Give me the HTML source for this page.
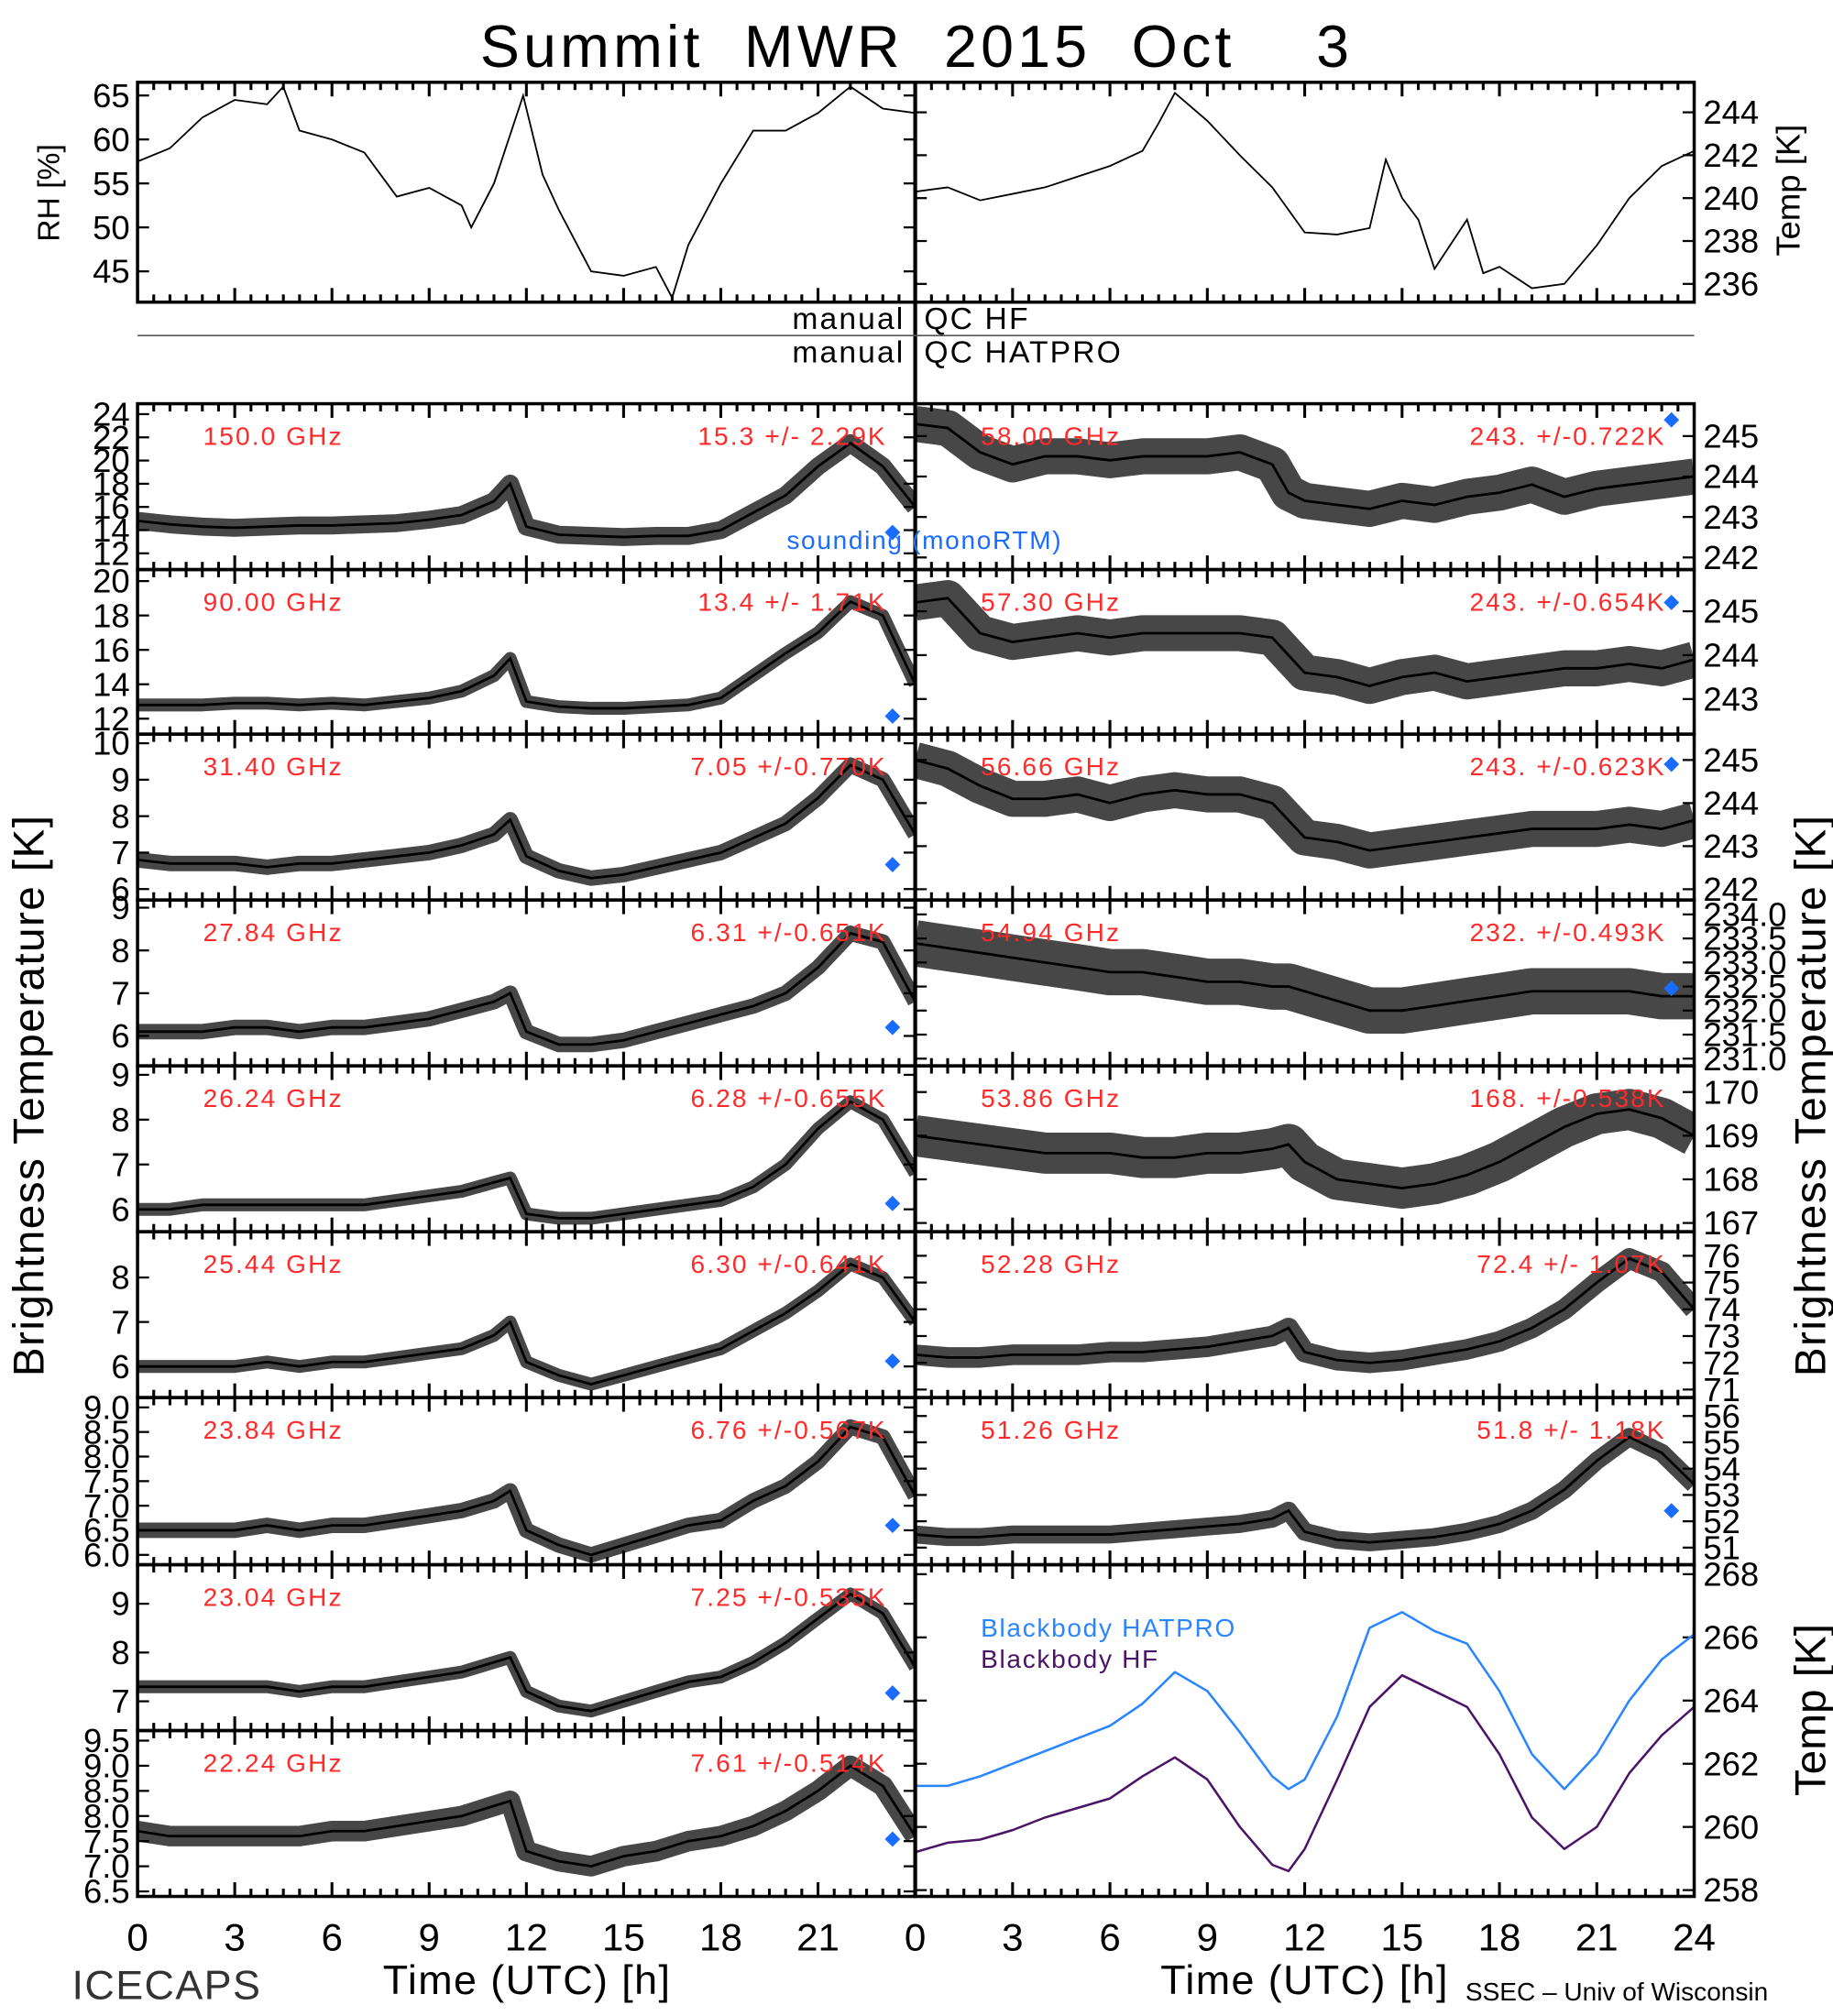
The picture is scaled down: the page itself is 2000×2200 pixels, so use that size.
<!DOCTYPE html>
<html><head><meta charset="utf-8"><style>
html,body{margin:0;padding:0;background:#fff}
svg{display:block}
text{font-family:"Liberation Sans",sans-serif}
</style></head>
<body>
<svg id="chart" xmlns="http://www.w3.org/2000/svg" width="2000" height="2200" viewBox="0 0 1426 1568" preserveAspectRatio="none">
<rect x="0" y="0" width="1426" height="1568" fill="#fff"/>
<text x="713" y="52" font-size="46" text-anchor="middle" letter-spacing="3" xml:space="preserve">Summit  MWR  2015  Oct    3</text>
<g id="g"></g>
</svg>
<script>
// ---- data ----
const times=[0,1,2,3,4,5,6,7,8,9,10,11,11.5,12,13,14,15,16,17,18,19,20,21,22,23,24];
const ch150=[14.8,14.5,14.3,14.2,14.3,14.4,14.4,14.5,14.6,14.9,15.3,16.5,18.0,14.3,13.6,13.5,13.4,13.5,13.5,14.0,15.5,17.0,19.5,21.5,19.5,16.0];
const ch90=[12.8,12.8,12.8,12.9,12.9,12.8,12.9,12.8,13.0,13.2,13.6,14.5,15.5,13.0,12.7,12.6,12.6,12.7,12.8,13.2,14.5,15.8,17.0,18.8,18.0,14.0];
const ch3140=[6.8,6.7,6.7,6.7,6.6,6.7,6.7,6.8,6.9,7.0,7.2,7.5,7.9,6.9,6.5,6.3,6.4,6.6,6.8,7.0,7.4,7.8,8.5,9.4,9.0,7.5];
const ch2784=[6.1,6.1,6.1,6.2,6.2,6.1,6.2,6.2,6.3,6.4,6.6,6.8,7.0,6.1,5.8,5.8,5.9,6.1,6.3,6.5,6.7,7.0,7.6,8.4,8.2,6.8];
const ch2624=[6.0,6.0,6.1,6.1,6.1,6.1,6.1,6.1,6.2,6.3,6.4,6.6,6.7,5.9,5.8,5.8,5.9,6.0,6.1,6.2,6.5,7.0,7.8,8.4,8.0,6.8];
const ch2544=[6.0,6.0,6.0,6.0,6.1,6.0,6.1,6.1,6.2,6.3,6.4,6.7,7.0,6.1,5.8,5.6,5.8,6.0,6.2,6.4,6.8,7.2,7.7,8.3,8.0,7.0];
const ch2384=[6.5,6.5,6.5,6.5,6.6,6.5,6.6,6.6,6.7,6.8,6.9,7.1,7.3,6.5,6.2,6.0,6.2,6.4,6.6,6.7,7.1,7.4,7.9,8.6,8.4,7.2];
const ch2304=[7.3,7.3,7.3,7.3,7.3,7.2,7.3,7.3,7.4,7.5,7.6,7.8,7.9,7.2,6.9,6.8,7.0,7.2,7.4,7.5,7.8,8.2,8.7,9.2,8.8,7.7];
const ch2224=[7.7,7.6,7.6,7.6,7.6,7.6,7.7,7.7,7.8,7.9,8.0,8.2,8.3,7.3,7.1,7.0,7.2,7.3,7.5,7.6,7.8,8.1,8.5,9.0,8.6,7.6];
const ch5800=[245.3,245.2,244.6,244.3,244.5,244.5,244.4,244.5,244.5,244.5,244.6,244.3,243.6,243.4,243.3,243.2,243.4,243.3,243.5,243.6,243.8,243.5,243.7,243.8,243.9,244.0];
const ch5730=[245.2,245.3,244.5,244.3,244.4,244.5,244.4,244.5,244.5,244.5,244.5,244.4,244.0,243.6,243.5,243.3,243.5,243.6,243.4,243.5,243.6,243.7,243.7,243.8,243.7,243.9];
const ch5666=[245.0,244.8,244.4,244.1,244.1,244.2,244.0,244.2,244.3,244.2,244.2,244.0,243.6,243.2,243.1,242.9,243.0,243.1,243.2,243.3,243.4,243.4,243.4,243.5,243.4,243.6];
const ch5494=[233.4,233.3,233.2,233.1,233.0,232.9,232.8,232.8,232.7,232.6,232.6,232.5,232.5,232.4,232.2,232.0,232.0,232.1,232.2,232.3,232.4,232.4,232.4,232.4,232.3,232.3];
const ch5386=[169.0,168.9,168.8,168.7,168.6,168.6,168.6,168.5,168.5,168.6,168.6,168.7,168.8,168.4,168.0,167.9,167.8,167.9,168.1,168.4,168.8,169.2,169.5,169.6,169.4,169.0];
const ch5228=[72.3,72.2,72.2,72.3,72.3,72.3,72.4,72.4,72.5,72.6,72.8,73.0,73.3,72.4,72.1,72.0,72.1,72.3,72.5,72.8,73.3,74.0,75.0,75.9,75.4,74.0];
const ch5126=[51.5,51.4,51.4,51.5,51.5,51.5,51.5,51.6,51.7,51.8,51.9,52.1,52.4,51.6,51.3,51.2,51.3,51.4,51.6,51.9,52.4,53.2,54.3,55.2,54.6,53.4];
const bbHatpro=[261.3,261.3,261.6,262.0,262.4,262.8,263.2,263.9,264.9,264.3,263.0,261.6,261.2,261.5,263.5,266.3,266.8,266.2,265.8,264.3,262.3,261.2,262.3,264.0,265.3,266.1];
const bbHF=[259.2,259.5,259.6,259.9,260.3,260.6,260.9,261.6,262.2,261.5,260.0,258.8,258.6,259.3,261.5,263.8,264.8,264.3,263.8,262.3,260.3,259.3,260.0,261.7,262.9,263.8];
const tRH=[0,1,2,3,4,4.5,5,6,7,8,9,10,10.3,11,11.9,12.5,13,14,15,16,16.5,17,18,19,20,21,22,23,24];
const rh=[57.5,59,62.5,64.5,64,66,61,60,58.5,53.5,54.5,52.5,50,55,65,56,52,45,44.5,45.5,42,48,55,61,61,63,66,63.5,63];
const tTemp=[0,1,2,3,4,5,6,7,7.5,8,9,10,11,12,13,14,14.5,15,15.5,16,17,17.5,18,19,20,21,22,23,24];
const temp=[240.3,240.5,239.9,240.2,240.5,241.0,241.5,242.2,243.5,244.9,243.6,242.0,240.5,238.4,238.3,238.6,241.8,240.0,239.0,236.7,239.0,236.5,236.8,235.8,236.0,237.8,240.0,241.5,242.2];
const freqLabels=["150.0 GHz","90.00 GHz","31.40 GHz","27.84 GHz","26.24 GHz","25.44 GHz","23.84 GHz","23.04 GHz","22.24 GHz","58.00 GHz","57.30 GHz","56.66 GHz","54.94 GHz","53.86 GHz","52.28 GHz","51.26 GHz"];
const statLabels=["15.3 +/-   2.29K","13.4 +/-   1.71K","7.05 +/-0.770K","6.31 +/-0.651K","6.28 +/-0.655K","6.30 +/-0.641K","6.76 +/-0.567K","7.25 +/-0.535K","7.61 +/-0.514K","243. +/-0.722K","243. +/-0.654K","243. +/-0.623K","232. +/-0.493K","168. +/-0.538K","72.4 +/-   1.07K","51.8 +/-   1.18K"];
const soundingValues=[13.8,12.15,6.67,6.2,6.13,6.12,6.6,7.17,7.54,245.4,245.2,244.9,232.46,null,null,52.4];
const soundingTime=23.3;
const xTickLabels=[0,3,6,9,12,15,18,21];
const xTickLabelsRight=[0,3,6,9,12,15,18,21,24];
const rhTicks=[45,50,55,60,65];
const tempTicks=[236,238,240,242,244];
const bbTicks=[258,260,262,264,266,268];
const yTicks=[[12,14,16,18,20,22,24],[12,14,16,18,20],[6,7,8,9,10],[6,7,8,9],[6,7,8,9],[6,7,8],
 ["6.0","6.5","7.0","7.5","8.0","8.5","9.0"],[7,8,9],["6.5","7.0","7.5","8.0","8.5","9.0","9.5"],
 [242,243,244,245],[243,244,245],[242,243,244,245],["231.0","231.5","232.0","232.5","233.0","233.5","234.0"],[167,168,169,170],[71,72,73,74,75,76],[51,52,53,54,55,56]];
// ---- layout ----
const series=[ch150,ch90,ch3140,ch2784,ch2624,ch2544,ch2384,ch2304,ch2224,ch5800,ch5730,ch5666,ch5494,ch5386,ch5228,ch5126];
const rowsY=[314,443,571,700,829,958,1087,1217,1346,1475];
const ranges=[[10.6,24.9],[11.1,20.67],[5.7,10.25],[5.3,9.18],[5.5,9.2],[5.3,9.03],[5.8,9.2],[6.4,9.8],[6.4,9.7],
 [241.7,245.8],[242.2,245.95],[241.75,245.6],[230.85,234.3],[166.8,170.6],[70.7,76.9],[50.35,56.7]];
const bands=[14,10,12,12,10,10,12,10,16,28,28,28,36,32,16,14];
const NS="http://www.w3.org/2000/svg";
const G=document.getElementById('g');
function mk(tag,attrs,parent){const e=document.createElementNS(NS,tag);for(const k in attrs)e.setAttribute(k,attrs[k]);(parent||G).appendChild(e);return e;}
function txt(s,attrs,parent){const e=mk('text',attrs,parent);e.textContent=s;return e;}
const FS=26;
function xTicks(x0,w,y,dir,g){
  for(let h=0;h<=24;h+=0.5){const x=x0+h/24*w;const L=(h%3===0)?11:6;
    mk('line',{x1:x,x2:x,y1:y,y2:y+dir*L,stroke:'#000','stroke-width':2.2},g);}
}
function panel(name,x0,y0,w,h,vmin,vmax,ticks,side,g){
  const sx=t=>x0+t/24*w, sy=v=>y0+(vmax-v)/(vmax-vmin)*h;
  for(const tk of ticks){const v=parseFloat(tk);const y=sy(v);
    if(y<y0-2||y>y0+h+2)continue;
    mk('line',{x1:x0,x2:x0+9,y1:y,y2:y,stroke:'#000','stroke-width':1.6},g);
    mk('line',{x1:x0+w,x2:x0+w-9,y1:y,y2:y,stroke:'#000','stroke-width':1.6},g);
    const t=txt(String(tk),{x:side==='left'?x0-6:x0+w+7,y:y+9,'font-size':FS,'text-anchor':side==='left'?'end':'start'},g);
    
    
  }
  xTicks(x0,w,y0,1,g);xTicks(x0,w,y0+h,-1,g);
  return {sx,sy};
}
function pts(ts,vs,sx,sy){return ts.map((t,i)=>sx(t).toFixed(1)+','+sy(vs[i]).toFixed(1)).join(' ');}

// top panels
{
  const g=mk('g',{});
  
  
  const a=panel('rh',107,64,605,171,41.5,66.5,rhTicks,'left',g);
  const l=mk('polyline',{points:pts(tRH,rh,a.sx,a.sy),fill:'none',stroke:'#000','stroke-width':1.3},g);
  
  
  mk('rect',{x:107,y:64,width:605,height:171,fill:'none',stroke:'#000','stroke-width':2.5},g);
  const g2=mk('g',{});
  
  
  const b=panel('temp',712,64,606,171,235.15,245.4,tempTicks,'right',g2);
  const l2=mk('polyline',{points:pts(tTemp,temp,b.sx,b.sy),fill:'none',stroke:'#000','stroke-width':1.3},g2);
  
  
  mk('rect',{x:712,y:64,width:606,height:171,fill:'none',stroke:'#000','stroke-width':2.5},g2);
}
// channel panels
for(let i=0;i<16;i++){
  const left=i<9; const r=left?i:i-9;
  const x0=left?107:712, w=left?605:606, y0=rowsY[r], h=rowsY[r+1]-rowsY[r];
  const g=mk('g',{});
  
  
  const cp=mk('clipPath',{id:'c'+i},g);mk('rect',{x:x0,y:y0,width:w,height:h},cp);
  const a=panel('p'+i,x0,y0,w,h,ranges[i][0],ranges[i][1],yTicks[i],left?'left':'right',g);
  const p=pts(times,series[i],a.sx,a.sy);
  const band=mk('polyline',{points:p,fill:'none',stroke:'#000','stroke-width':bands[i],'stroke-opacity':0.72,'stroke-linejoin':'round','clip-path':'url(#c'+i+')'},g);
  
  
  const ln=mk('polyline',{points:p,fill:'none',stroke:'#000','stroke-width':2,'clip-path':'url(#c'+i+')'},g);
  
  
  mk('rect',{x:x0,y:y0,width:w,height:h,fill:'none',stroke:'#000','stroke-width':2.5},g);
  const f=txt(freqLabels[i],{x:left?158:763,y:y0+32,'font-size':20,fill:'#ff2a2a','letter-spacing':1.5},g);
  
  
  const s=txt(statLabels[i],{x:left?690:1296,y:y0+32,'font-size':20,fill:'#ff2a2a','text-anchor':'end','letter-spacing':1.5},g);
  
  
  if(soundingValues[i]!==null){
    const cx=a.sx(soundingTime), cy=a.sy(soundingValues[i]);
    const d=mk('polygon',{points:`${cx},${cy-6} ${cx+6},${cy} ${cx},${cy+6} ${cx-6},${cy}`,fill:'#1a6cff'},g);
    
    
  }
}
// blackbody panel
{
  const g=mk('g',{});
  
  
  const a=panel('bb',712,1217,606,258,257.8,268.3,bbTicks,'right',g);
  const l1=mk('polyline',{points:pts(times,bbHatpro,a.sx,a.sy),fill:'none',stroke:'#2a86ff','stroke-width':1.8,'stroke-linejoin':'round','stroke-linecap':'round'},g);
  
  
  const l2=mk('polyline',{points:pts(times,bbHF,a.sx,a.sy),fill:'none',stroke:'#4b1466','stroke-width':1.8,'stroke-linejoin':'round','stroke-linecap':'round'},g);
  
  
  mk('rect',{x:712,y:1217,width:606,height:258,fill:'none',stroke:'#000','stroke-width':2.5},g);
  const t1=txt('Blackbody HATPRO',{x:763,y:1273,'font-size':20,fill:'#2a86ff','letter-spacing':1.2},g);
  
  
  const t2=txt('Blackbody HF',{x:763,y:1297,'font-size':20,fill:'#4b1466','letter-spacing':1.2},g);
  
  
}
// x tick labels
for(const v of xTickLabels){
  const t=txt(String(v),{x:107+v/24*605,y:1517,'font-size':30,'text-anchor':'middle'});
  
  
}
for(const v of xTickLabelsRight){
  const t=txt(String(v),{x:712+v/24*606,y:1517,'font-size':30,'text-anchor':'middle'});
  
  
}
</script>
<script>
(function(){
const NS="http://www.w3.org/2000/svg";const G=document.getElementById('g');
function t(s,a,name){const e=document.createElementNS(NS,'text');for(const k in a)e.setAttribute(k,a[k]);e.textContent=s;


G.appendChild(e);}
function l(a,name){const e=document.createElementNS(NS,'line');for(const k in a)e.setAttribute(k,a[k]);


G.appendChild(e);}
l({x1:712,x2:712,y1:64,y2:1475,stroke:'#000','stroke-width':3},'center-divider');
l({x1:107,x2:1318,y1:261,y2:261,stroke:'#555','stroke-width':1.2},'qc-separator');
t('manual',{x:704,y:256,'font-size':24,'text-anchor':'end','letter-spacing':1.5},'qc-manual-hf-label');
t('QC HF',{x:719,y:256,'font-size':24,'letter-spacing':1.5},'qc-hf-label');
t('manual',{x:704,y:282,'font-size':24,'text-anchor':'end','letter-spacing':1.5},'qc-manual-hatpro-label');
t('QC HATPRO',{x:719,y:282,'font-size':24,'letter-spacing':1.5},'qc-hatpro-label');
t('sounding (monoRTM)',{x:612,y:427,'font-size':20,fill:'#1a6cff','letter-spacing':1.2},'sounding-legend');
t('RH [%]',{x:0,y:0,'font-size':24,'text-anchor':'middle',transform:'translate(46,150) rotate(-90)'},'rh-axis-title');
t('Temp [K]',{x:0,y:0,'font-size':26,'text-anchor':'middle',transform:'translate(1400,148) rotate(-90)'},'temp-axis-title');
t('Brightness Temperature [K]',{x:0,y:0,'font-size':34,'text-anchor':'middle','letter-spacing':1,transform:'translate(34,852) rotate(-90)'},'y-axis-title-left');
t('Brightness Temperature [K]',{x:0,y:0,'font-size':34,'text-anchor':'middle','letter-spacing':1,transform:'translate(1420,852) rotate(-90)'},'y-axis-title-right');
t('Temp [K]',{x:0,y:0,'font-size':34,'text-anchor':'middle',transform:'translate(1420,1330) rotate(-90)'},'blackbody-axis-title');
t('Time (UTC) [h]',{x:410,y:1551,'font-size':32,'text-anchor':'middle','letter-spacing':1},'x-axis-title-left');
t('Time (UTC) [h]',{x:1015,y:1551,'font-size':32,'text-anchor':'middle','letter-spacing':1},'x-axis-title-right');
t('ICECAPS',{x:56,y:1555,'font-size':32,fill:'#333','letter-spacing':1},'icecaps-label');
t('SSEC – Univ of Wisconsin',{x:1140,y:1556,'font-size':20},'ssec-credit');
})();
</script>
</body></html>
